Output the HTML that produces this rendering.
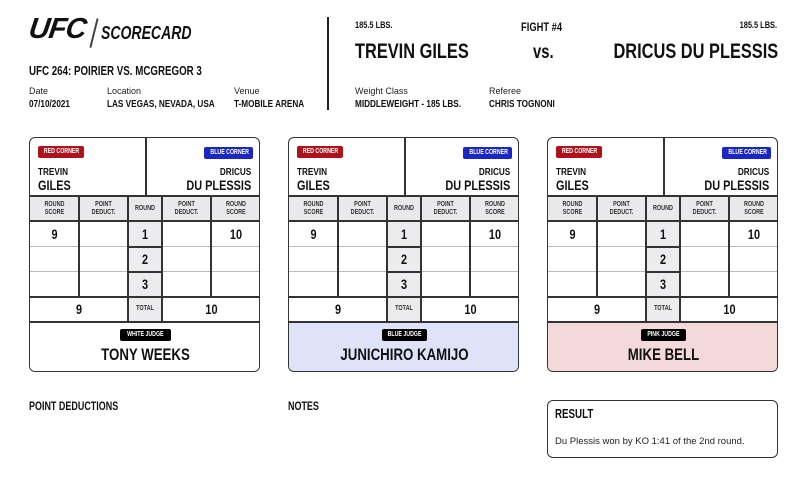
<!DOCTYPE html>
<html><head><meta charset="utf-8">
<style>
*{margin:0;padding:0;box-sizing:border-box}
body{width:804px;height:490px;background:#fff;position:relative;overflow:hidden;font-family:"Liberation Sans",sans-serif;color:#111}
.a{position:absolute;white-space:nowrap}
.b{font-weight:bold}
.sl{transform:scaleX(.78);transform-origin:left center}
.sr{transform:scaleX(.78);transform-origin:right center}
.sc{transform:scaleX(.78);transform-origin:center center}
.lbl{font-size:9px;color:#222}
.card{position:absolute;top:137px;width:231px;height:235px;border:1.5px solid #333;border-radius:6px;overflow:hidden;background:#fff}
.card .c{position:absolute;font-weight:bold;text-align:center;white-space:nowrap}
.card .c.sl{text-align:left}
.card .c.sr{text-align:right}
.bd{position:absolute;height:12px;border-radius:2px;color:#fff;font-weight:bold;text-align:center;font-size:7px;line-height:12px;white-space:nowrap;overflow:visible}
.bd span{display:inline-block;transform:scaleX(.75)}
.hl{position:absolute;left:0;width:100%;height:1.5px;background:#333}
.vl{position:absolute;width:1.5px;background:#333}
.tl{position:absolute;height:1px;background:#bbb}
</style></head><body>

<!-- header left -->
<div class="a b" style="left:29px;top:13px;font-size:29px;font-style:italic;font-weight:900;letter-spacing:-1px;transform:skewX(-8deg)">UFC</div>
<div class="a" style="left:93px;top:18px;width:1.5px;height:30px;background:#444;transform:rotate(14deg)"></div>
<div class="a b sl" style="left:101px;top:23px;font-size:18px;font-style:italic">SCORECARD</div>
<div class="a b sl" style="left:29px;top:64px;font-size:12.5px">UFC 264: POIRIER VS. MCGREGOR 3</div>
<div class="a lbl" style="left:29px;top:86px">Date</div>
<div class="a lbl" style="left:107px;top:86px">Location</div>
<div class="a lbl" style="left:234px;top:86px">Venue</div>
<div class="a b sl" style="left:29px;top:98px;font-size:10.5px">07/10/2021</div>
<div class="a b sl" style="left:107px;top:98px;font-size:10.5px">LAS VEGAS, NEVADA, USA</div>
<div class="a b sl" style="left:234px;top:98px;font-size:10.5px">T-MOBILE ARENA</div>
<div class="a" style="left:327px;top:17px;width:2px;height:93px;background:#222"></div>

<!-- header right -->
<div class="a b sl" style="left:355px;top:20px;font-size:9.5px">185.5 LBS.</div>
<div class="a b sl" style="left:521px;top:20px;font-size:12px">FIGHT #4</div>
<div class="a b sr" style="right:27px;top:20px;font-size:9.5px">185.5 LBS.</div>
<div class="a b sl" style="left:355px;top:40px;font-size:21px">TREVIN GILES</div>
<div class="a b sl" style="left:533px;top:42px;font-size:19px">vs.</div>
<div class="a b sr" style="right:26px;top:40px;font-size:21px">DRICUS DU PLESSIS</div>
<div class="a lbl" style="left:355px;top:86px">Weight Class</div>
<div class="a lbl" style="left:489px;top:86px">Referee</div>
<div class="a b sl" style="left:355px;top:98px;font-size:10.5px">MIDDLEWEIGHT - 185 LBS.</div>
<div class="a b sl" style="left:489px;top:98px;font-size:10.5px">CHRIS TOGNONI</div>

<!-- cards -->
<div class="card" style="left:29px">
 <div style="position:absolute;left:0;top:58px;width:231px;height:25px;background:#e9e9ec"></div>
 <div style="position:absolute;left:98px;top:83px;width:34px;height:101px;background:#ececee"></div>
 <div style="position:absolute;left:0;top:184px;width:231px;height:51px;background:#fff"></div>
 <div class="hl" style="top:57px"></div><div class="hl" style="top:82px"></div><div class="hl" style="top:158px"></div><div class="hl" style="top:183px"></div>
 <div class="tl" style="left:0;width:98px;top:108px"></div><div class="tl" style="left:132px;width:99px;top:108px"></div>
 <div class="tl" style="left:0;width:98px;top:133px"></div><div class="tl" style="left:132px;width:99px;top:133px"></div>
 <div class="hl" style="left:98px;width:34px;top:108px"></div><div class="hl" style="left:98px;width:34px;top:133px"></div>
 <div class="vl" style="left:115px;top:0;height:58px"></div>
 <div class="vl" style="left:48px;top:58px;height:101px"></div>
 <div class="vl" style="left:97px;top:58px;height:126px"></div>
 <div class="vl" style="left:131px;top:58px;height:126px"></div>
 <div class="vl" style="left:180px;top:58px;height:101px"></div>
 <div class="bd" style="left:8px;top:8px;width:46px;background:#b0121b"><span>RED CORNER</span></div>
 <div class="bd" style="left:174px;top:9px;width:49px;background:#1a27c4"><span>BLUE CORNER</span></div>
 <div class="c sl" style="left:8px;top:28px;font-size:10.5px">TREVIN</div>
 <div class="c sl" style="left:8px;top:39px;font-size:14px">GILES</div>
 <div class="c sr" style="right:8px;top:28px;font-size:10.5px">DRICUS</div>
 <div class="c sr" style="right:8px;top:39px;font-size:14px">DU PLESSIS</div>
 <div class="c sc" style="left:0;width:49px;top:63px;font-size:7px;line-height:8px;color:#333">ROUND<br>SCORE</div>
 <div class="c sc" style="left:49px;width:49px;top:63px;font-size:7px;line-height:8px;color:#333">POINT<br>DEDUCT.</div>
 <div class="c sc" style="left:98px;width:34px;top:67px;font-size:7px;color:#333">ROUND</div>
 <div class="c sc" style="left:132px;width:49px;top:63px;font-size:7px;line-height:8px;color:#333">POINT<br>DEDUCT.</div>
 <div class="c sc" style="left:181px;width:50px;top:63px;font-size:7px;line-height:8px;color:#333">ROUND<br>SCORE</div>
 <div class="c sc" style="left:0;width:49px;top:88px;font-size:14px">9</div>
 <div class="c sc" style="left:181px;width:50px;top:88px;font-size:14px">10</div>
 <div class="c sc" style="left:98px;width:34px;top:88px;font-size:14px">1</div>
 <div class="c sc" style="left:98px;width:34px;top:113px;font-size:14px">2</div>
 <div class="c sc" style="left:98px;width:34px;top:138px;font-size:14px">3</div>
 <div class="c sc" style="left:0;width:98px;top:163px;font-size:14px">9</div>
 <div class="c sc" style="left:98px;width:34px;top:167px;font-size:7px;color:#333">TOTAL</div>
 <div class="c sc" style="left:132px;width:99px;top:163px;font-size:14px">10</div>
 <div class="bd" style="left:90px;top:191px;width:51px;background:#000"><span>WHITE JUDGE</span></div>
 <div class="c sc" style="left:0;width:231px;top:207px;font-size:17px">TONY WEEKS</div>
</div>

<div class="card" style="left:288px">
 <div style="position:absolute;left:0;top:58px;width:231px;height:25px;background:#e9e9ec"></div>
 <div style="position:absolute;left:98px;top:83px;width:34px;height:101px;background:#ececee"></div>
 <div style="position:absolute;left:0;top:184px;width:231px;height:51px;background:#dfe3fa"></div>
 <div class="hl" style="top:57px"></div><div class="hl" style="top:82px"></div><div class="hl" style="top:158px"></div><div class="hl" style="top:183px"></div>
 <div class="tl" style="left:0;width:98px;top:108px"></div><div class="tl" style="left:132px;width:99px;top:108px"></div>
 <div class="tl" style="left:0;width:98px;top:133px"></div><div class="tl" style="left:132px;width:99px;top:133px"></div>
 <div class="hl" style="left:98px;width:34px;top:108px"></div><div class="hl" style="left:98px;width:34px;top:133px"></div>
 <div class="vl" style="left:115px;top:0;height:58px"></div>
 <div class="vl" style="left:48px;top:58px;height:101px"></div>
 <div class="vl" style="left:97px;top:58px;height:126px"></div>
 <div class="vl" style="left:131px;top:58px;height:126px"></div>
 <div class="vl" style="left:180px;top:58px;height:101px"></div>
 <div class="bd" style="left:8px;top:8px;width:46px;background:#b0121b"><span>RED CORNER</span></div>
 <div class="bd" style="left:174px;top:9px;width:49px;background:#1a27c4"><span>BLUE CORNER</span></div>
 <div class="c sl" style="left:8px;top:28px;font-size:10.5px">TREVIN</div>
 <div class="c sl" style="left:8px;top:39px;font-size:14px">GILES</div>
 <div class="c sr" style="right:8px;top:28px;font-size:10.5px">DRICUS</div>
 <div class="c sr" style="right:8px;top:39px;font-size:14px">DU PLESSIS</div>
 <div class="c sc" style="left:0;width:49px;top:63px;font-size:7px;line-height:8px;color:#333">ROUND<br>SCORE</div>
 <div class="c sc" style="left:49px;width:49px;top:63px;font-size:7px;line-height:8px;color:#333">POINT<br>DEDUCT.</div>
 <div class="c sc" style="left:98px;width:34px;top:67px;font-size:7px;color:#333">ROUND</div>
 <div class="c sc" style="left:132px;width:49px;top:63px;font-size:7px;line-height:8px;color:#333">POINT<br>DEDUCT.</div>
 <div class="c sc" style="left:181px;width:50px;top:63px;font-size:7px;line-height:8px;color:#333">ROUND<br>SCORE</div>
 <div class="c sc" style="left:0;width:49px;top:88px;font-size:14px">9</div>
 <div class="c sc" style="left:181px;width:50px;top:88px;font-size:14px">10</div>
 <div class="c sc" style="left:98px;width:34px;top:88px;font-size:14px">1</div>
 <div class="c sc" style="left:98px;width:34px;top:113px;font-size:14px">2</div>
 <div class="c sc" style="left:98px;width:34px;top:138px;font-size:14px">3</div>
 <div class="c sc" style="left:0;width:98px;top:163px;font-size:14px">9</div>
 <div class="c sc" style="left:98px;width:34px;top:167px;font-size:7px;color:#333">TOTAL</div>
 <div class="c sc" style="left:132px;width:99px;top:163px;font-size:14px">10</div>
 <div class="bd" style="left:93px;top:191px;width:45px;background:#000"><span>BLUE JUDGE</span></div>
 <div class="c sc" style="left:0;width:231px;top:207px;font-size:17px">JUNICHIRO KAMIJO</div>
</div>

<div class="card" style="left:547px">
 <div style="position:absolute;left:0;top:58px;width:231px;height:25px;background:#e9e9ec"></div>
 <div style="position:absolute;left:98px;top:83px;width:34px;height:101px;background:#ececee"></div>
 <div style="position:absolute;left:0;top:184px;width:231px;height:51px;background:#f4d9da"></div>
 <div class="hl" style="top:57px"></div><div class="hl" style="top:82px"></div><div class="hl" style="top:158px"></div><div class="hl" style="top:183px"></div>
 <div class="tl" style="left:0;width:98px;top:108px"></div><div class="tl" style="left:132px;width:99px;top:108px"></div>
 <div class="tl" style="left:0;width:98px;top:133px"></div><div class="tl" style="left:132px;width:99px;top:133px"></div>
 <div class="hl" style="left:98px;width:34px;top:108px"></div><div class="hl" style="left:98px;width:34px;top:133px"></div>
 <div class="vl" style="left:115px;top:0;height:58px"></div>
 <div class="vl" style="left:48px;top:58px;height:101px"></div>
 <div class="vl" style="left:97px;top:58px;height:126px"></div>
 <div class="vl" style="left:131px;top:58px;height:126px"></div>
 <div class="vl" style="left:180px;top:58px;height:101px"></div>
 <div class="bd" style="left:8px;top:8px;width:46px;background:#b0121b"><span>RED CORNER</span></div>
 <div class="bd" style="left:174px;top:9px;width:49px;background:#1a27c4"><span>BLUE CORNER</span></div>
 <div class="c sl" style="left:8px;top:28px;font-size:10.5px">TREVIN</div>
 <div class="c sl" style="left:8px;top:39px;font-size:14px">GILES</div>
 <div class="c sr" style="right:8px;top:28px;font-size:10.5px">DRICUS</div>
 <div class="c sr" style="right:8px;top:39px;font-size:14px">DU PLESSIS</div>
 <div class="c sc" style="left:0;width:49px;top:63px;font-size:7px;line-height:8px;color:#333">ROUND<br>SCORE</div>
 <div class="c sc" style="left:49px;width:49px;top:63px;font-size:7px;line-height:8px;color:#333">POINT<br>DEDUCT.</div>
 <div class="c sc" style="left:98px;width:34px;top:67px;font-size:7px;color:#333">ROUND</div>
 <div class="c sc" style="left:132px;width:49px;top:63px;font-size:7px;line-height:8px;color:#333">POINT<br>DEDUCT.</div>
 <div class="c sc" style="left:181px;width:50px;top:63px;font-size:7px;line-height:8px;color:#333">ROUND<br>SCORE</div>
 <div class="c sc" style="left:0;width:49px;top:88px;font-size:14px">9</div>
 <div class="c sc" style="left:181px;width:50px;top:88px;font-size:14px">10</div>
 <div class="c sc" style="left:98px;width:34px;top:88px;font-size:14px">1</div>
 <div class="c sc" style="left:98px;width:34px;top:113px;font-size:14px">2</div>
 <div class="c sc" style="left:98px;width:34px;top:138px;font-size:14px">3</div>
 <div class="c sc" style="left:0;width:98px;top:163px;font-size:14px">9</div>
 <div class="c sc" style="left:98px;width:34px;top:167px;font-size:7px;color:#333">TOTAL</div>
 <div class="c sc" style="left:132px;width:99px;top:163px;font-size:14px">10</div>
 <div class="bd" style="left:93px;top:191px;width:45px;background:#000"><span>PINK JUDGE</span></div>
 <div class="c sc" style="left:0;width:231px;top:207px;font-size:17px">MIKE BELL</div>
</div>

<!-- bottom -->
<div class="a b sl" style="left:29px;top:401px;font-size:11.5px">POINT DEDUCTIONS</div>
<div class="a b sl" style="left:288px;top:401px;font-size:11.5px">NOTES</div>
<div class="a" style="left:547px;top:400px;width:231px;height:58px;border:1.5px solid #333;border-radius:6px"></div>
<div class="a b sl" style="left:555px;top:407px;font-size:12.5px">RESULT</div>
<div class="a" style="left:555px;top:436px;font-size:9.5px;color:#222">Du Plessis won by KO 1:41 of the 2nd round.</div>
</body></html>
